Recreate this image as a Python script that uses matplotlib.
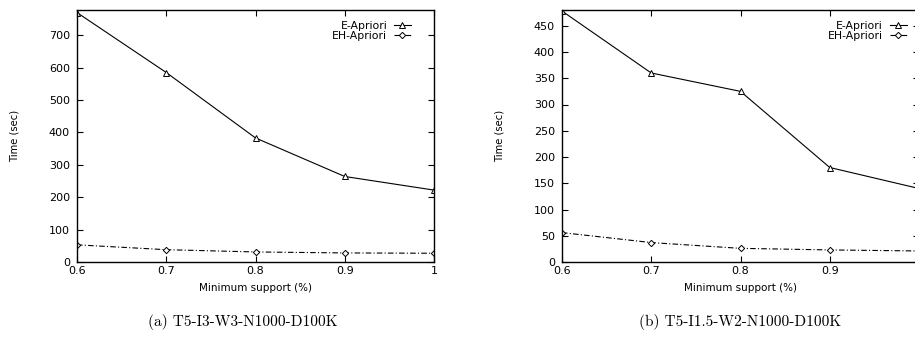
import matplotlib
matplotlib.use("Agg")
import matplotlib.pyplot as plt

# minimum support values (%)
support = [0.6, 0.7, 0.8, 0.9, 1.0]
support_ticks = [0.6, 0.7, 0.8, 0.9, 1.0]
support_labels = ["0.6", "0.7", "0.8", "0.9", "1"]

# (a) T5-I3-W3-N1000-D100K
e_apriori_a = [770, 585, 383, 264, 222]
eh_apriori_a = [53, 38, 31, 28, 27]
yticks_a = [0, 100, 200, 300, 400, 500, 600, 700]

# (b) T5-I1.5-W2-N1000-D100K
e_apriori_b = [478, 360, 325, 180, 140]
eh_apriori_b = [56, 37, 26, 23, 21]
yticks_b = [0, 50, 100, 150, 200, 250, 300, 350, 400, 450]

captions = ["(a) T5-I3-W3-N1000-D100K", "(b) T5-I1.5-W2-N1000-D100K"]

plt.rcParams["font.family"] = ["DejaVu Sans"]

W, H = 915, 345
fig = plt.figure(figsize=(W / 100, H / 100), dpi=100)


def panel(rect, e_vals, eh_vals, yticks, ymax, caption, cap_x, key_x):
    ax = fig.add_axes(rect)
    ax.plot(support, e_vals, color="black", lw=0.8, marker="^", ms=4.5,
            mfc="white", mec="black", mew=0.7, label="E-Apriori")
    ax.plot(support, eh_vals, color="black", lw=0.8, ls=(0, (5, 2, 1, 2)),
            marker="D", ms=3.2, mfc="white", mec="black", mew=0.7,
            label="EH-Apriori")
    ax.set_xlim(0.6, 1.0)
    ax.set_ylim(0, ymax)
    ax.set_xticks(support_ticks)
    ax.set_xticklabels(support_labels)
    ax.set_yticks(yticks)
    ax.tick_params(direction="in", top=True, right=True, length=4,
                   width=0.8, labelsize=8)
    ax.tick_params(axis="y", pad=5)
    ax.tick_params(axis="x", pad=3)
    for s in ax.spines.values():
        s.set_linewidth(1.0)
    ax.set_xlabel("Minimum support (%)", fontsize=7.5)
    ax.xaxis.set_label_coords(0.5, -0.083)
    ax.set_ylabel("Time (sec)", fontsize=7.2)
    ax.yaxis.set_label_coords(-0.16, 0.5)
    ax.legend(loc="upper right", bbox_to_anchor=(key_x, 0.958),
              frameon=False, markerfirst=False, fontsize=7.8,
              handlelength=1.6, handletextpad=0.6, labelspacing=0.05,
              borderaxespad=0, borderpad=0)
    fig.text(cap_x / W, 1 - 322 / H, caption, family="cmr10", fontsize=11,
             ha="center", va="center")
    return ax


panel([77 / W, 83 / H, 357 / W, 252 / H], e_apriori_a, eh_apriori_a,
      yticks_a, 778, captions[0], 243, 0.936)
panel([562 / W, 83 / H, 357 / W, 252 / H], e_apriori_b, eh_apriori_b,
      yticks_b, 480, captions[1], 740, 0.966)

fig.savefig("out.png", dpi=100)
